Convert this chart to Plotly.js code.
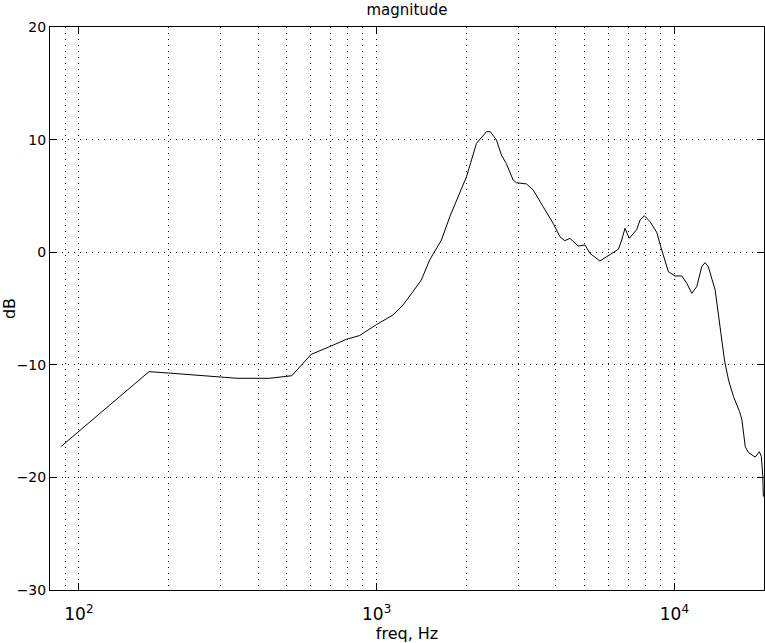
<!DOCTYPE html>
<html>
<head>
<meta charset="utf-8">
<script src="https://cdn.plot.ly/plotly-3.0.1.min.js"></script>
<style>
  html, body { margin: 0; padding: 0; background: #fff; }
  #chart { width: 765px; height: 643px; }
</style>
</head>
<body>
<div id="chart"></div>
<script>
// Magnitude response
const freqHz = [
  87, 172, 200, 261, 308, 341, 436, 519, 603, 695, 791, 877,
  1000, 1135, 1226, 1325, 1413, 1507, 1578, 1651, 1761, 2004, 2165, 2339,
  2410, 2527, 2625, 2725, 2874, 2950, 3188, 3357, 3625, 3916, 4126, 4283,
  4457, 4753, 5010, 5206, 5623, 6077, 6486, 6654, 6826, 7056, 7281, 7470,
  7669, 7930, 8285, 8724, 9070, 9546, 10050, 10590, 11010, 11440, 11890, 12360,
  12680, 13000, 13710, 14060, 14320, 14540, 14730, 15200, 15800, 16560, 16860, 17300,
  17750, 18680, 19300, 19600, 19810, 19900
];
const magDb = [
  -17.27, -10.61, -10.73, -10.93, -11.11, -11.2, -11.2, -10.97, -9.07, -8.39, -7.74, -7.4,
  -6.42, -5.58, -4.69, -3.5, -2.47, -0.69, 0.2, 1.08, 3.15, 6.71, 9.67, 10.7,
  10.7, 9.96, 8.63, 7.89, 6.41, 6.17, 6.06, 5.52, 4.04, 2.57, 1.38, 1.02,
  1.23, 0.55, 0.64, -0.1, -0.78, -0.25, 0.26, 1.08, 2.12, 1.23, 1.68, 2.0,
  2.86, 3.24, 2.71, 1.77, 0.2, -1.73, -2.11, -2.11, -2.76, -3.65, -3.06, -1.28,
  -0.93, -1.28, -3.36, -5.73, -6.91, -8.69, -9.57, -11.35, -12.83, -14.16, -14.9, -17.27,
  -17.8, -18.2, -17.72, -18.16, -19.9, -21.7
];

const majorTicks = [100, 1000, 10000];
const majorLabels = ['10<sup>2</sup>', '10<sup>3</sup>', '10<sup>4</sup>'];
const minorTicks = [90, 200, 300, 400, 500, 600, 700, 800, 900,
  2000, 3000, 4000, 5000, 6000, 7000, 8000, 9000];

const fam = 'DejaVu Sans, Liberation Sans, sans-serif';
const black = '#000';
// sparse MATLAB-style dotted grid
const dotGrid = {showgrid: true, gridcolor: black, gridwidth: 1, griddash: '1px,5px'};

const traces = [
  {
    x: freqHz, y: magDb,
    mode: 'lines',
    line: {color: black, width: 1},
    hoverinfo: 'skip',
    showlegend: false,
  },
  // invisible trace just to bind the minor-grid axis
  {
    x: [80, 20000], y: [0, 0], xaxis: 'x2',
    mode: 'lines', line: {width: 0}, hoverinfo: 'skip', showlegend: false,
  },
];

const xRange = [Math.log10(80), Math.log10(20000)];

const layout = {
  width: 765, height: 643,
  margin: {l: 50, r: 1, t: 27, b: 53},
  paper_bgcolor: '#fff',
  plot_bgcolor: '#fff',
  font: {family: fam, size: 14, color: black},
  title: {
    text: 'magnitude',
    font: {family: fam, size: 15, color: black},
    x: 0.5, xref: 'paper',
    y: 1 - 10 / 643, yref: 'container', yanchor: 'middle',
  },
  xaxis: Object.assign({
    type: 'log', range: xRange,
    tickmode: 'array', tickvals: majorTicks, ticktext: majorLabels,
    ticks: 'inside', ticklen: 7, tickcolor: black, tickwidth: 1,
    ticklabelstandoff: 9,
    showline: true, linecolor: black, linewidth: 1, mirror: 'ticks',
    zeroline: false,
    tickfont: {family: fam, size: 17, color: black},
    title: {text: 'freq, Hz', font: {family: fam, size: 16, color: black}, standoff: 1},
  }, dotGrid),
  xaxis2: Object.assign({
    type: 'log', range: xRange, overlaying: 'x',
    tickmode: 'array', tickvals: minorTicks,
    ticks: '', showticklabels: false, showline: false, zeroline: false,
  }, dotGrid),
  yaxis: Object.assign({
    range: [-30, 20], dtick: 10, tick0: 0,
    ticks: 'inside', ticklen: 7, tickcolor: black, tickwidth: 1,
    showline: true, linecolor: black, linewidth: 1, mirror: 'ticks',
    zeroline: false,
    tickfont: {family: fam, size: 14, color: black},
    title: {text: 'dB', font: {family: fam, size: 16, color: black}, standoff: 10},
  }, dotGrid),
};

Plotly.newPlot('chart', traces, layout, {staticPlot: true, displayModeBar: false});
</script>
</body>
</html>
